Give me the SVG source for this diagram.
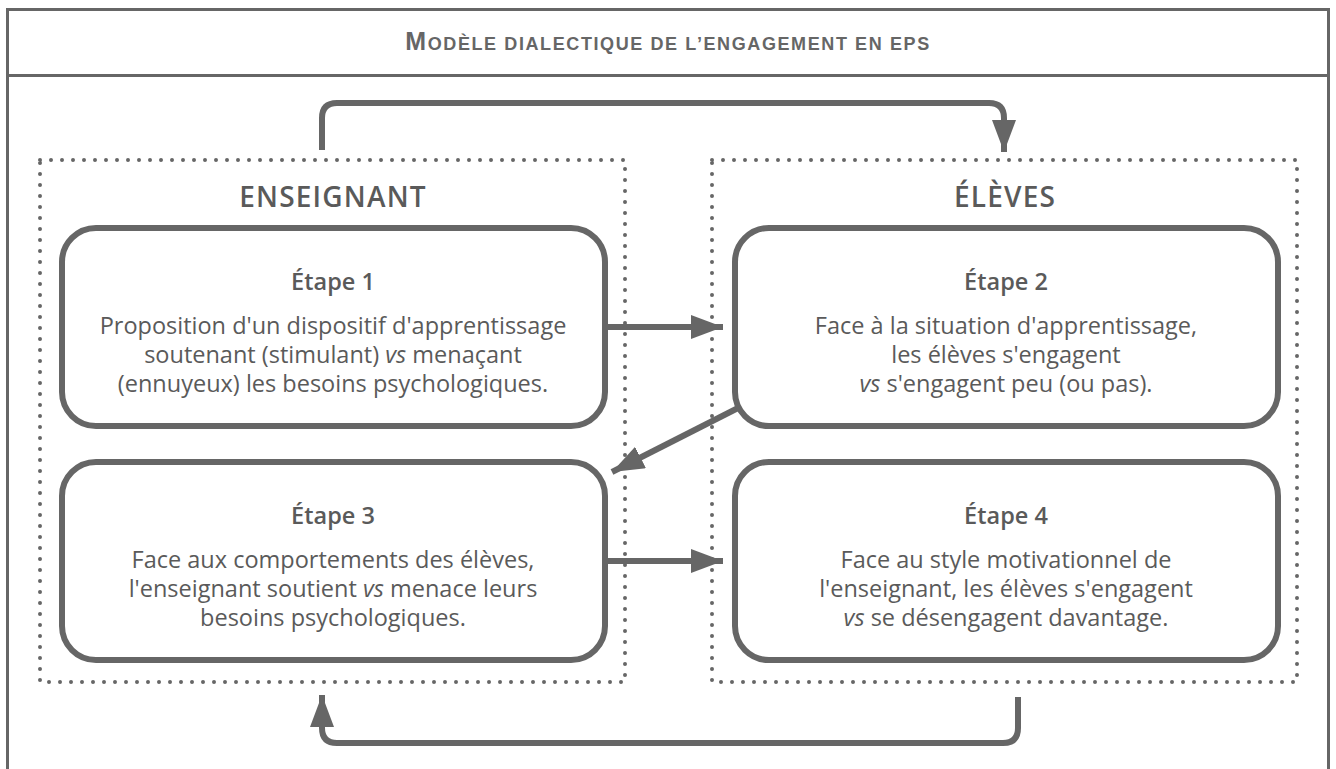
<svg xmlns="http://www.w3.org/2000/svg" width="1336" height="769" viewBox="0 0 1336 769">
  <style>
    .frame { fill: #ffffff; stroke: #666666; stroke-width: 3; }
    .zone { fill: none; stroke: #666666; stroke-width: 4; stroke-dasharray: 0 11; stroke-linecap: round; }
    .step { fill: #ffffff; stroke: #666666; stroke-width: 6; }
    .link { fill: none; stroke: #666666; stroke-width: 6; }
    .title { font-family: "Liberation Sans", Arial, sans-serif; font-weight: bold; fill: #666666; letter-spacing: 1.6px; }
    .actor { font-family: "Open Sans", "Noto Sans", sans-serif; font-size: 28px; font-weight: 600; fill: #5a5a5a; text-anchor: middle; letter-spacing: 1.2px; }
    .head { font-family: "Open Sans", "Noto Sans", sans-serif; font-size: 23.5px; font-weight: 600; fill: #5a5a5a; text-anchor: middle; }
    .body { font-family: "Open Sans", "Noto Sans", sans-serif; font-size: 23.5px; fill: #5a5a5a; text-anchor: middle; }
  </style>
  <defs>
    <marker id="arrow" viewBox="0 0 32 24" refX="32" refY="12" markerWidth="32" markerHeight="24" markerUnits="userSpaceOnUse" orient="auto">
      <path d="M0,0 L32,12 L0,24 Z" fill="#666666"/>
    </marker>
  </defs>

  <rect width="1336" height="769" fill="#ffffff"/>

  <!-- outer frame and header band -->
  <g id="frame">
    <rect class="frame" x="7.5" y="9.5" width="1321" height="780"/>
    <line x1="7.5" y1="75.5" x2="1328.5" y2="75.5" stroke="#666666" stroke-width="3"/>
    <text class="title" x="668" y="50" text-anchor="middle"><tspan font-size="25">M</tspan><tspan font-size="18">ODÈLE DIALECTIQUE DE L’ENGAGEMENT EN EPS</tspan></text>
  </g>

  <!-- actor zones -->
  <g id="zone-enseignant">
    <rect class="zone" x="40" y="160" width="585" height="522"/>
    <text class="actor" x="333" y="207">ENSEIGNANT</text>
  </g>
  <g id="zone-eleves">
    <rect class="zone" x="712" y="160" width="585" height="522"/>
    <text class="actor" x="1005" y="207">ÉLÈVES</text>
  </g>

  <!-- connectors -->
  <g id="connectors">
    <path class="link" d="M322,150 V118 Q322,103 337,103 H989 Q1004,103 1004,118 V152" marker-end="url(#arrow)"/>
    <line class="link" x1="605" y1="327" x2="723" y2="327" marker-end="url(#arrow)"/>
    <line class="link" x1="740" y1="407" x2="612" y2="472" marker-end="url(#arrow)"/>
    <line class="link" x1="605" y1="561" x2="723" y2="561" marker-end="url(#arrow)"/>
    <path class="link" d="M1018,697 V728 Q1018,743 1003,743 H337 Q322,743 322,728 V695" marker-end="url(#arrow)"/>
  </g>

  <!-- steps -->
  <g id="step-1">
    <rect class="step" x="62" y="228" width="543" height="198" rx="34"/>
    <text class="head" x="333" y="290">Étape 1</text>
    <text class="body" x="333" y="334">Proposition d'un dispositif d'apprentissage</text>
    <text class="body" x="333" y="363">soutenant (stimulant) <tspan font-style="italic">vs</tspan> menaçant</text>
    <text class="body" x="333" y="392">(ennuyeux) les besoins psychologiques.</text>
  </g>
  <g id="step-2">
    <rect class="step" x="735" y="228" width="543" height="198" rx="34"/>
    <text class="head" x="1006" y="290">Étape 2</text>
    <text class="body" x="1006" y="334">Face à la situation d'apprentissage,</text>
    <text class="body" x="1006" y="363">les élèves s'engagent</text>
    <text class="body" x="1006" y="392"><tspan font-style="italic">vs</tspan> s'engagent peu (ou pas).</text>
  </g>
  <g id="step-3">
    <rect class="step" x="62" y="462" width="543" height="198" rx="34"/>
    <text class="head" x="333" y="524">Étape 3</text>
    <text class="body" x="333" y="568">Face aux comportements des élèves,</text>
    <text class="body" x="333" y="597">l'enseignant soutient <tspan font-style="italic">vs</tspan> menace leurs</text>
    <text class="body" x="333" y="626">besoins psychologiques.</text>
  </g>
  <g id="step-4">
    <rect class="step" x="735" y="462" width="543" height="198" rx="34"/>
    <text class="head" x="1006" y="524">Étape 4</text>
    <text class="body" x="1006" y="568">Face au style motivationnel de</text>
    <text class="body" x="1006" y="597">l'enseignant, les élèves s'engagent</text>
    <text class="body" x="1006" y="626"><tspan font-style="italic">vs</tspan> se désengagent davantage.</text>
  </g>
</svg>
